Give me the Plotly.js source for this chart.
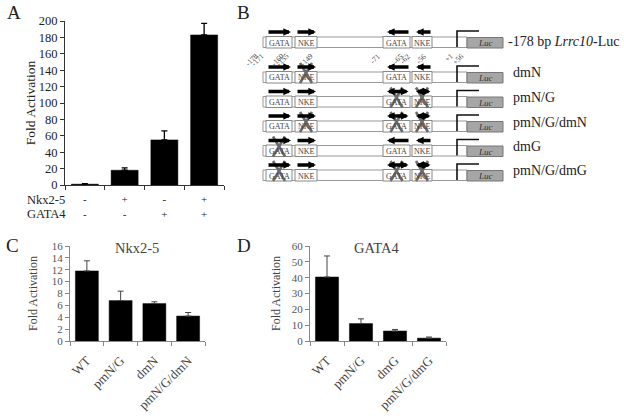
<!DOCTYPE html>
<html>
<head>
<meta charset="utf-8">
<script src="https://cdn.plot.ly/plotly-3.0.1.min.js"></script>
<style>
  body { margin: 0; background: #fff; }
  #fig { width: 624px; height: 419px; }
</style>
</head>
<body>
<div id="fig"></div>
<script>
        const W = 624, H = 419;
        const SERIF = '"Liberation Serif", "Times New Roman", serif';

        // panel A: co-transfection
        const catsA = ['c1', 'c2', 'c3', 'c4'];
        const nkxRow = ['-', '+', '-', '+'];
        const gataRow = ['-', '-', '+', '+'];
        const valsA = [1, 18, 55, 183];
        const errA = [0.5, 3, 11, 14];

        // panel C: Nkx2-5
        const catsC = ['WT', 'pmN/G', 'dmN', 'pmN/G/dmN'];
        const valsC = [11.8, 6.8, 6.3, 4.2];
        const errC = [1.7, 1.6, 0.3, 0.6];

        // panel D: GATA4
        const catsD = ['WT', 'pmN/G', 'dmG', 'pmN/G/dmG'];
        const valsD = [40.4, 11, 6.3, 1.8];
        const errD = [13.3, 3, 1, 0.7];

        // panel B: constructs and the state of each site
        // sites: GATA(-171/-160), NKE(-155/-149), GATA(-71/-65), NKE(-62/-56)
        // '' intact, 'd' deletion, 'p' palindromic mutation
        const constructs = ['-178 bp <i>Lrrc10</i>-Luc', 'dmN', 'pmN/G', 'pmN/G/dmN', 'dmG', 'pmN/G/dmG'];
        const siteNames = ['GATA', 'NKE', 'GATA', 'NKE'];
        const siteMut = [
            ['', '', '', ''],
            ['', 'd', '', ''],
            ['', '', 'p', 'p'],
            ['', 'd', 'p', 'p'],
            ['d', '', '', ''],
            ['d', '', 'p', 'p']
        ];
        const bpLabels = ['-178', '-171', '-160', '-155', '-149', '-71', '-65', '-62', '-56', '+1', '+56'];

        function px(x) { return x / W; }
        function py(y) { return 1 - y / H; }

        function barTrace(cats, vals, err, xa, ya, errColor, errWidth) {
            return {
                type: 'bar', x: cats, y: vals, xaxis: xa, yaxis: ya,
                marker: { color: '#000', line: { color: '#000', width: 0.5 } },
                error_y: {
                    type: 'data', array: err, arrayminus: err.map(() => 0), symmetric: false,
                    color: errColor, thickness: errWidth, width: 3
                },
                hoverinfo: 'skip', showlegend: false
            };
        }

        let traces = [
            barTrace(catsA, valsA, errA, 'x', 'y', '#000', 1.3),
            barTrace(catsC, valsC, errC, 'x2', 'y2', '#444', 1),
            barTrace(catsD, valsD, errD, 'x3', 'y3', '#444', 1)
        ];

        let shapes = [];
        let annotations = [];

        function note(x, y, text, size, opts) {
            annotations.push(Object.assign({
                xref: 'paper', yref: 'paper', x: px(x), y: py(y), text: text,
                xanchor: 'center', yanchor: 'middle',
                showarrow: false, font: { family: SERIF, size: size, color: '#222' }
            }, opts || {}));
        }

        // panel letters
        note(14, 13, 'A', 19);
        note(243, 12, 'B', 19);
        note(12, 245, 'C', 19);
        note(244, 245, 'D', 19);

        // panel A row labels
        note(25, 200, 'Nkx2-5', 12.5, { xanchor: 'left' });
        note(25, 214, 'GATA4', 12.5, { xanchor: 'left' });

        // panel C / D titles
        note(137, 248, 'Nkx2-5', 14.5, { font: { family: SERIF, size: 14.5, color: '#444' } });
        note(377, 248, 'GATA4', 14.5, { font: { family: SERIF, size: 14.5, color: '#444' } });

        // ---- panel B schematic ----
        const sites = [
            { x0: 266, x1: 292, dir: 1 },
            { x0: 295, x1: 317, dir: 1 },
            { x0: 383, x1: 410, dir: -1 },
            { x0: 412, x1: 432, dir: -1 }
        ];
        const rowTop = [37, 72, 96.5, 121, 145.5, 170];
        const bpX = [263, 269, 289, 294, 318, 385, 408, 415, 431, 458, 468];

        constructs.forEach((name, r) => {
            let t = rowTop[r];
            // promoter body
            shapes.push({ type: 'rect', xref: 'paper', yref: 'paper', x0: px(263), x1: px(467), y0: py(t), y1: py(t + 10.5),
                line: { color: '#999', width: 1 }, fillcolor: '#fff', layer: 'below' });
            // Luc box
            shapes.push({ type: 'rect', xref: 'paper', yref: 'paper', x0: px(467), x1: px(503), y0: py(t + 0.5), y1: py(t + 11),
                line: { color: '#777', width: 1 }, fillcolor: '#a6a6a6' });
            note(485, t + 6, '<i>Luc</i>', 9, { font: { family: SERIF, size: 9, color: '#333' } });
            // transcription start
            shapes.push({ type: 'path', xref: 'paper', yref: 'paper',
                path: 'M' + px(457) + ',' + py(t + 10) + ' L' + px(457) + ',' + py(t - 6) + ' L' + px(479) + ',' + py(t - 6),
                line: { color: '#111', width: 1.6 } });

            sites.forEach((s, k) => {
                let mut = siteMut[r][k];
                shapes.push({ type: 'rect', xref: 'paper', yref: 'paper', x0: px(s.x0), x1: px(s.x1), y0: py(t - 0.5), y1: py(t + 11),
                    line: { color: '#888', width: 1 }, fillcolor: '#fff' });
                note((s.x0 + s.x1) / 2, t + 6, siteNames[k], 8, { font: { family: SERIF, size: 8, color: '#444' } });
                // binding-site arrow
                let head = s.dir > 0 ? s.x1 - 1 : s.x0 + 4;
                let tail = s.dir > 0 ? s.x0 + 1 : s.x1;
                annotations.push({
                    xref: 'paper', yref: 'paper', x: px(head), y: py(t - 5), ax: tail - head, ay: 0,
                    text: '', showarrow: true, arrowhead: 2, arrowsize: 0.45, arrowwidth: 3.4,
                    arrowcolor: '#000', arrowside: mut === 'p' ? 'end+start' : 'end', standoff: 0, startstandoff: 0
                });
                if (mut) {
                    let cx = (s.x0 + s.x1) / 2;
                    shapes.push({ type: 'line', xref: 'paper', yref: 'paper', x0: px(cx - 6), y0: py(t - 9), x1: px(cx + 6), y1: py(t + 11),
                        line: { color: '#6a6a6a', width: 2.6 } });
                    shapes.push({ type: 'line', xref: 'paper', yref: 'paper', x0: px(cx + 6), y0: py(t - 9), x1: px(cx - 6), y1: py(t + 11),
                        line: { color: '#6a6a6a', width: 2.6 } });
                }
            });

            note(r === 0 ? 506 : 511, r === 0 ? t + 5 : t + 1, name, 14, { xanchor: 'left' });
        });

        bpLabels.forEach((lab, i) => {
            note(bpX[i], 49, lab, 7.5, {
                xanchor: 'right', yanchor: 'top', textangle: -45,
                font: { family: SERIF, size: 7.5, color: '#444' }
            });
        });

        const tickFont = { family: SERIF, size: 12.5, color: '#222' };
        const grayTick = { family: SERIF, size: 11, color: '#555' };

        let layout = {
            width: W, height: H,
            margin: { l: 0, r: 0, t: 0, b: 0 },
            paper_bgcolor: '#fff', plot_bgcolor: 'rgba(0,0,0,0)',
            bargap: 0.32,
            xaxis: {
                domain: [px(65), px(224)], anchor: 'y', type: 'category',
                tickmode: 'array', tickvals: catsA, ticktext: catsA.map((c, i) => nkxRow[i] + '<br>' + gataRow[i]),
                tickson: 'boundaries', ticks: 'outside', ticklen: 4, tickcolor: '#333',
                showline: true, linecolor: '#333', linewidth: 1, showgrid: false, zeroline: false,
                tickfont: { family: SERIF, size: 11, color: '#222' }, ticklabelstandoff: 4
            },
            yaxis: {
                domain: [py(185), py(21)], anchor: 'x', range: [0, 200], dtick: 20,
                ticks: 'outside', ticklen: 4, tickcolor: '#333', showline: true, linecolor: '#333', linewidth: 1,
                showgrid: false, zeroline: false, tickfont: tickFont,
                title: { text: 'Fold Activation', font: { family: SERIF, size: 13.5, color: '#222' }, standoff: 0 }
            },
            xaxis2: {
                domain: [px(70), px(205)], anchor: 'y2', type: 'category',
                tickson: 'boundaries', ticks: 'outside', ticklen: 4, tickcolor: '#888', tickangle: -45,
                showline: true, linecolor: '#888', linewidth: 1, showgrid: false, zeroline: false,
                tickfont: { family: SERIF, size: 13, color: '#444' }, ticklabelstandoff: 6
            },
            yaxis2: {
                domain: [py(341), py(246)], anchor: 'x2', range: [0, 16], dtick: 2,
                ticks: 'outside', ticklen: 4, tickcolor: '#888', showline: true, linecolor: '#888', linewidth: 1,
                showgrid: false, zeroline: false, tickfont: grayTick,
                title: { text: 'Fold Activation', font: { family: SERIF, size: 12, color: '#444' }, standoff: 11 }
            },
            xaxis3: {
                domain: [px(310), px(446)], anchor: 'y3', type: 'category',
                tickson: 'boundaries', ticks: 'outside', ticklen: 4, tickcolor: '#888', tickangle: -45,
                showline: true, linecolor: '#888', linewidth: 1, showgrid: false, zeroline: false,
                tickfont: { family: SERIF, size: 13, color: '#444' }, ticklabelstandoff: 6
            },
            yaxis3: {
                domain: [py(341), py(246)], anchor: 'x3', range: [0, 60], dtick: 10,
                ticks: 'outside', ticklen: 4, tickcolor: '#888', showline: true, linecolor: '#888', linewidth: 1,
                showgrid: false, zeroline: false, tickfont: grayTick,
                title: { text: 'Fold Activation', font: { family: SERIF, size: 12, color: '#444' }, standoff: 8 }
            },
            shapes: shapes,
            annotations: annotations
        };

        Plotly.newPlot('fig', traces, layout, { staticPlot: true, displayModeBar: false });
</script>
</body>
</html>
